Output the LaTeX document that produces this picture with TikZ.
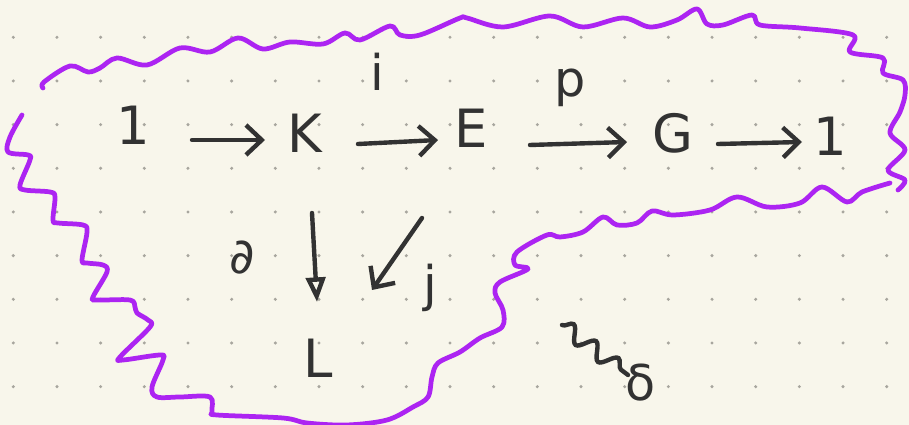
\documentclass[tikz,border=0pt]{standalone}
\usepackage{fontspec}
\setmainfont{DejaVu Sans}
\usetikzlibrary{arrows.meta,decorations.pathmorphing}

\definecolor{paper}{RGB}{248,246,235}
\definecolor{griddot}{RGB}{168,166,158}
\definecolor{ink}{RGB}{50,50,50}
\definecolor{blob}{RGB}{172,36,242}

\tikzset{
  lbl/.style={text=ink, inner sep=1pt, font=\fontsize{14}{16}\selectfont},
  obj/.style={text=ink, inner sep=1pt, font=\fontsize{15}{18}\selectfont},
  arr/.style={draw=ink, line width=1.25pt, line cap=round,
    -{Straight Barb[length=4.5pt,width=8.5pt,line width=1.25pt]}},
  hollowarr/.style={draw=ink, line width=1.25pt, line cap=round,
    -{Triangle[open,length=7pt,width=5.5pt,line width=1.25pt]}},
  squig/.style={draw=ink, line width=1.25pt, line cap=round,
    decorate, decoration={snake, segment length=8pt, amplitude=2.2pt}},
  wavy/.style={draw=blob, line width=1.35pt, line cap=round, line join=round}
}

\begin{document}
\begin{tikzpicture}[x=0.01cm, y=-0.01cm]
  % paper with dotted grid
  \fill[paper] (0,0) rectangle (909,425);
  \useasboundingbox (0,0) rectangle (909,425);
  \foreach \i in {0,...,20}
    \foreach \j in {0,...,8}
      \fill[griddot] (13.3+43.67*\i, 37.3+43.67*\j) circle (1.7);

  % top row
  \node[obj] (one)  at (133,125) {1};
  \node[obj] (K)    at (305,133) {K};
  \node[obj] (E)    at (471,128) {E};
  \node[obj] (G)    at (673,133) {G};
  \node[obj] (oneb) at (830,136) {1};
  % bottom
  \node[obj] (L)    at (318,358) {L};

  % labels
  \node[lbl] (li) at (377,72) {i};
  \node[lbl] (lp) at (570,88) {p};
  \node[lbl] (ld) at (242,258) {∂};
  \node[lbl] (lj) at (430,288) {j};
  \node[lbl] (delta) at (641,383) {δ};

  % arrows
  \draw[arr] ([shift={(59,15)}]one.center) -- ([shift={(-40,7)}]K.center);
  \draw[arr] ([shift={(53,11)}]K.center) -- ([shift={(-33,12)}]E.center);
  \draw[arr] ([shift={(59,17)}]E.center) -- ([shift={(-46,9)}]G.center);
  \draw[arr] ([shift={(45,11)}]G.center) -- ([shift={(-28,6)}]oneb.center);
  \draw[hollowarr] ([shift={(7,80)}]K.center) -- ([shift={(-1,-56)}]L.center);
  \draw[arr] ([shift={(-49,90)}]E.center) -- ([shift={(54,-68)}]L.center);

  % squiggly mark
  \coordinate (sq) at (562,325);
  \draw[squig] (sq) -- ([shift={(-13,-8)}]delta.center);

  % purple outline: top and right stroke
  \draw[wavy] plot[smooth, tension=0.55] coordinates {
    (43,88) (44,82) (70,66) (88,72) (100,68) (117,58) (147,65) (180,48)
    (210,52) (238,38) (263,49) (290,42) (323,44) (345,33) (360,40)
    (390,26) (400,35) (420,35) (460,18) (467,18) (503,27) (550,16)
    (583,27) (623,18) (650,27) (677,20) (697,9) (707,24) (723,25)
    (752,15) (760,25) (800,28) (853,35) (850,52) (883,58) (883,73)
    (903,80) (905,95) (900,112) (890,133) (905,150) (888,170) (905,180)
    (898,190)};

  % purple outline: left, bottom and lower right stroke
  \draw[wavy] plot[smooth, tension=0.55] coordinates {
    (22,115) (10,137) (8,152) (28,155) (30,160) (20,185) (25,190)
    (50,192) (55,197) (53,220) (58,223) (83,225) (87,232) (82,260)
    (87,263) (103,265) (107,272) (93,297) (97,300) (130,300) (135,307)
    (137,313) (148,320) (150,327) (120,357) (123,360) (160,355)
    (163,360) (152,387) (157,397) (180,397) (210,397) (212,412)
    (217,415) (283,418) (307,423) (347,425) (387,420) (413,407)
    (428,397) (432,377) (438,363) (460,352) (480,338) (502,327)
    (503,310) (495,293) (500,282) (528,269) (515,265) (517,252)
    (547,235) (560,237) (583,232) (603,217) (617,225) (637,223)
    (652,211) (673,215) (710,210) (737,197) (767,207) (800,203)
    (822,187) (847,202) (862,192) (890,183)};
\end{tikzpicture}
\end{document}
